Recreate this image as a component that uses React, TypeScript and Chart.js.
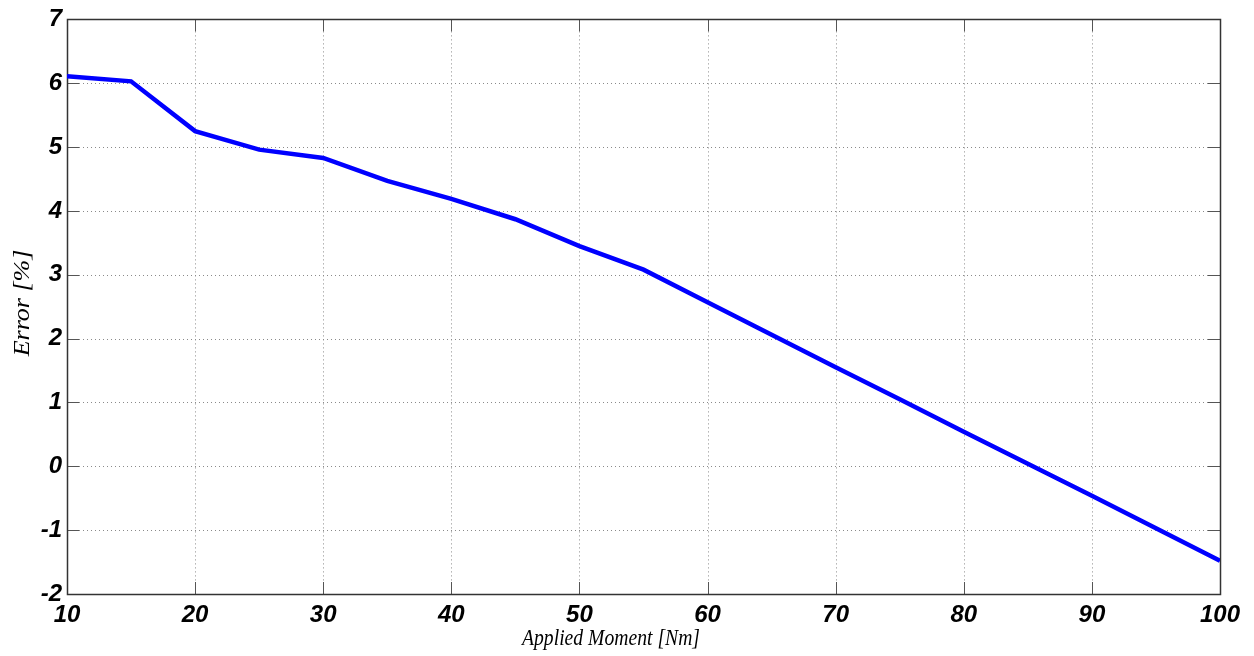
import React, { useEffect, useRef } from "react";
import { Chart, registerables } from "chart.js";

Chart.register(...registerables);

const moments = [10, 15, 20, 25, 30, 35, 40, 45, 50, 55, 60, 65, 70, 75, 80, 85, 90, 95, 100];
const errors = [6.11, 6.03, 5.25, 4.96, 4.83, 4.47, 4.19, 3.87, 3.45, 3.08, 2.57, 2.06, 1.55, 1.05, 0.54, 0.04, -0.46, -0.97, -1.48];
const xTicks = [10, 20, 30, 40, 50, 60, 70, 80, 90, 100];
const yTicks = [-2, -1, 0, 1, 2, 3, 4, 5, 6, 7];
const xTitle = "Applied Moment [Nm]";
const yTitle = "Error [%]";

const frame = {
  id: "frame",
  beforeDatasetsDraw(chart: any) {
    const { ctx, chartArea: a, scales } = chart;
    const xs = scales.x;
    const ys = scales.y;
    ctx.save();
    ctx.strokeStyle = "#8a8a8a";
    ctx.lineWidth = 1;
    ctx.setLineDash([1, 3]);
    ctx.beginPath();
    xTicks.forEach((v) => {
      if (v === xTicks[0] || v === xTicks[xTicks.length - 1]) return;
      const px = Math.round(xs.getPixelForValue(v)) + 0.5;
      ctx.moveTo(px, a.top);
      ctx.lineTo(px, a.bottom);
    });
    yTicks.forEach((v) => {
      if (v === yTicks[0] || v === yTicks[yTicks.length - 1]) return;
      const py = Math.round(ys.getPixelForValue(v)) + 0.5;
      ctx.moveTo(a.left, py);
      ctx.lineTo(a.right, py);
    });
    ctx.stroke();
    ctx.setLineDash([]);
    ctx.strokeStyle = "#555";
    ctx.beginPath();
    const tl = 12;
    xTicks.forEach((v) => {
      const px = Math.round(xs.getPixelForValue(v)) + 0.5;
      ctx.moveTo(px, a.bottom);
      ctx.lineTo(px, a.bottom - tl);
      ctx.moveTo(px, a.top);
      ctx.lineTo(px, a.top + tl);
    });
    yTicks.forEach((v) => {
      const py = Math.round(ys.getPixelForValue(v)) + 0.5;
      ctx.moveTo(a.left, py);
      ctx.lineTo(a.left + tl, py);
      ctx.moveTo(a.right, py);
      ctx.lineTo(a.right - tl, py);
    });
    ctx.stroke();
    ctx.strokeStyle = "#333";
    ctx.lineWidth = 1.5;
    ctx.strokeRect(Math.round(a.left) + 0.5, Math.round(a.top) + 0.5, Math.round(a.right - a.left), Math.round(a.bottom - a.top));
    ctx.restore();
  },
  afterDraw(chart: any) {
    const { ctx } = chart;
    ctx.save();
    ctx.fillStyle = "#000";
    ctx.textAlign = "center";
    ctx.textBaseline = "alphabetic";
    ctx.font = "italic 23px 'Liberation Serif', 'Times New Roman', serif";
    const w = ctx.measureText(xTitle).width;
    const sx = 178 / w;
    ctx.save();
    ctx.translate(611, 645);
    ctx.scale(sx, 1);
    ctx.fillText(xTitle, 0, 0);
    ctx.restore();
    ctx.font = "italic 26px 'Liberation Serif', 'Times New Roman', serif";
    ctx.textBaseline = "middle";
    ctx.translate(23, 303);
    ctx.rotate(-Math.PI / 2);
    ctx.scale(1, 0.85);
    ctx.fillText(yTitle, 0, 0);
    ctx.restore();
  },
};

export default function App() {
  const ref = useRef<HTMLCanvasElement>(null);
  useEffect(() => {
    const tickFont = { family: "'Liberation Sans', Arial, sans-serif", size: 24, weight: "bold" as const, style: "italic" as const };
    const chart = new Chart(ref.current!, {
      type: "line",
      data: {
        datasets: [
          {
            data: moments.map((m, i) => ({ x: m, y: errors[i] })),
            borderColor: "#0000ff",
            borderWidth: 4.5,
            pointRadius: 0,
            tension: 0,
          },
        ],
      },
      plugins: [frame],
      options: {
        responsive: false,
        animation: false,
        layout: { padding: { top: 18, right: 34, left: 0, bottom: 0 } },
        plugins: { legend: { display: false }, tooltip: { enabled: false } },
        scales: {
          x: {
            type: "linear",
            min: 10,
            max: 100,
            afterFit: (s: any) => { s.height = 62; },
            afterBuildTicks: (s: any) => { s.ticks = xTicks.map((v) => ({ value: v })); },
            grid: { display: false, drawTicks: false },
            border: { display: false },
            ticks: { font: tickFont, color: "#000", padding: 7, maxRotation: 0, autoSkip: false },
          },
          y: {
            type: "linear",
            min: -2,
            max: 7,
            afterFit: (s: any) => { s.width = 67; },
            afterBuildTicks: (s: any) => { s.ticks = yTicks.map((v) => ({ value: v })); },
            grid: { display: false, drawTicks: false },
            border: { display: false },
            ticks: { font: tickFont, color: "#000", padding: 5, autoSkip: false },
          },
        },
      },
    });
    return () => chart.destroy();
  }, []);
  return (
    <div style={{ position: "absolute", left: 0, top: 0, width: 1254, height: 656, background: "#fff" }}>
      <canvas ref={ref} width={1254} height={656} />
    </div>
  );
}
